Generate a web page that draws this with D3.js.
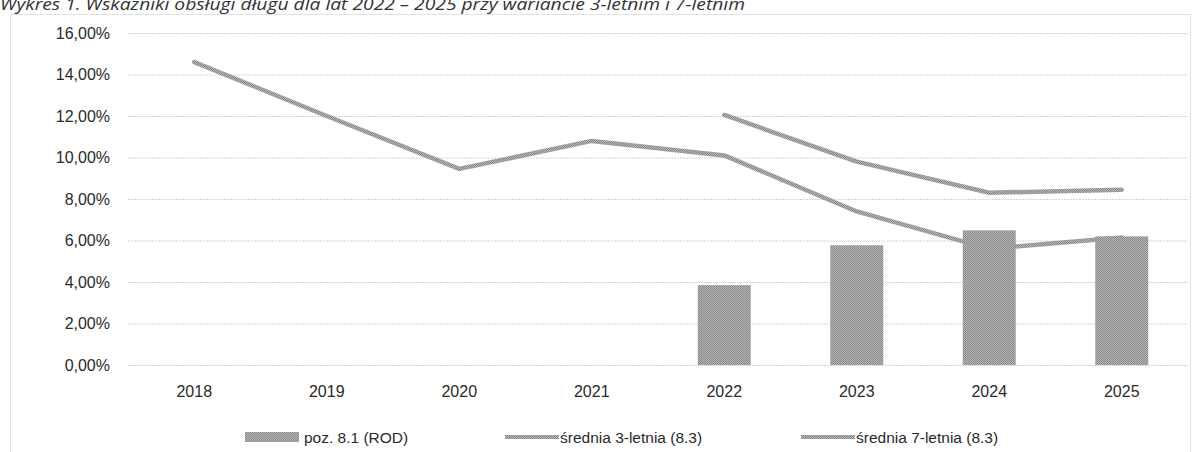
<html lang="pl">
<script src="https://cdnjs.cloudflare.com/ajax/libs/d3/7.8.5/d3.min.js"></script>
<head>
<style>
html, body {
  margin: 0;
  background: #fff;
}
svg {
  font-family: 'Liberation Sans', Arial, sans-serif;
}
</style>
</head>
<body>
  <svg width="1192" height="452"></svg>
</body>
<script>
const years = ['2018', '2019', '2020', '2021', '2022', '2023', '2024', '2025'];
const rod = [null, null, null, null, 3.85, 5.77, 6.49, 6.2];
const avg3 = [14.6, 12.0, 9.45, 10.8, 10.1, 7.4, 5.6, 6.15];
const avg7 = [null, null, null, null, 12.05, 9.8, 8.3, 8.45];
const yTicks = [0, 2, 4, 6, 8, 10, 12, 14, 16];
const legendLabels = ['poz. 8.1 (ROD)', 'średnia 3-letnia (8.3)', 'średnia 7-letnia (8.3)'];
const title = 'Wykres 1. Wskaźniki obsługi długu dla lat 2022 – 2025 przy wariancie 3-letnim i 7-letnim';

const svg = d3.select('svg');

// halftone-ish fills like the scan
const defs = svg.append('defs');
const pat = defs.append('pattern')
  .attr('id', 'dots')
  .attr('width', 2)
  .attr('height', 2)
  .attr('patternUnits', 'userSpaceOnUse');
pat.append('rect').attr('width', 2).attr('height', 2).attr('fill', '#b6b6b6');
pat.append('rect').attr('width', 1).attr('height', 1).attr('fill', '#888');
pat.append('rect').attr('x', 1).attr('y', 1).attr('width', 1).attr('height', 1).attr('fill', '#888');

const x = d3.scaleBand()
  .domain(years)
  .range([128, 1188])
  .paddingInner(0.6)
  .paddingOuter(0.3);

const y = d3.scaleLinear()
  .domain([0, 16])
  .range([365, 33]);

const cx = d => x(d) + x.bandwidth() / 2;

// title, cut at top of the scan
svg.append('text')
  .attr('x', 0)
  .attr('y', 10)
  .attr('font-family', "'Open Sans', 'Noto Sans', sans-serif")
  .attr('font-style', 'italic')
  .attr('font-size', 16)
  .attr('fill', '#333')
  .attr('textLength', 745)
  .attr('lengthAdjust', 'spacingAndGlyphs')
  .text(title);

// chart area border
svg.append('rect')
  .attr('x', 10.5)
  .attr('y', 14.5)
  .attr('width', 1180)
  .attr('height', 460)
  .attr('fill', 'none')
  .attr('stroke', '#c4c4c4')
  .attr('stroke-dasharray', '1 1');

// gridlines
svg.append('g')
  .attr('transform', 'translate(128,0)')
  .call(d3.axisLeft(y).tickValues(yTicks).tickSize(-1060).tickFormat(''))
  .call(g => g.select('.domain').remove())
  .call(g => g.selectAll('line')
    .attr('stroke', '#d2d2d2')
    .attr('stroke-dasharray', '2 1'));

// y labels
svg.append('g')
  .attr('transform', 'translate(128,0)')
  .call(d3.axisLeft(y)
    .tickValues(yTicks)
    .tickSize(0)
    .tickPadding(18)
    .tickFormat(d => d.toFixed(2).replace('.', ',') + '%'))
  .call(g => g.select('.domain').remove())
  .call(g => g.selectAll('text')
    .attr('font-size', 16)
    .attr('font-family', "'Liberation Sans', Arial, sans-serif")
    .attr('fill', '#2a2a2a'));

// x labels
svg.append('g')
  .attr('transform', 'translate(0,372)')
  .call(d3.axisBottom(x).tickSize(0).tickPadding(14))
  .call(g => g.select('.domain').remove())
  .call(g => g.selectAll('text')
    .attr('font-size', 16)
    .attr('font-family', "'Liberation Sans', Arial, sans-serif")
    .attr('fill', '#2a2a2a'));

const line = d3.line()
  .defined(d => d.v !== null)
  .x(d => cx(d.year))
  .y(d => y(d.v));

[avg3, avg7].forEach(series => {
  svg.append('path')
    .datum(years.map((year, i) => ({year, v: series[i]})))
    .attr('d', line)
    .attr('fill', 'none')
    .attr('stroke', 'url(#dots)')
    .attr('stroke-width', 4.5)
    .attr('stroke-linejoin', 'round')
    .attr('stroke-linecap', 'round');
});

// bars sit on top of the lines in the scan
svg.append('g')
  .selectAll('rect')
  .data(years.map((year, i) => ({year, v: rod[i]})).filter(d => d.v !== null))
  .join('rect')
  .attr('x', d => x(d.year))
  .attr('y', d => y(d.v))
  .attr('width', x.bandwidth())
  .attr('height', d => y(0) - y(d.v))
  .attr('fill', 'url(#dots)');

// legend
const legendX = [245, 505, 801];
const lg = svg.append('g').attr('font-size', 15.5).attr('fill', '#2a2a2a');
legendLabels.forEach((label, i) => {
  const item = lg.append('g').attr('transform', `translate(${legendX[i]},437)`);
  if (i === 0) {
    item.append('rect')
      .attr('x', 0).attr('y', -5)
      .attr('width', 54).attr('height', 10)
      .attr('fill', 'url(#dots)');
  } else {
    item.append('line')
      .attr('x1', 0).attr('x2', 54)
      .attr('stroke', 'url(#dots)')
      .attr('stroke-width', 4);
  }
  item.append('text')
    .attr('x', i === 0 ? 59 : 55)
    .attr('y', 5.5)
    .text(label);
});
</script>
</html>
